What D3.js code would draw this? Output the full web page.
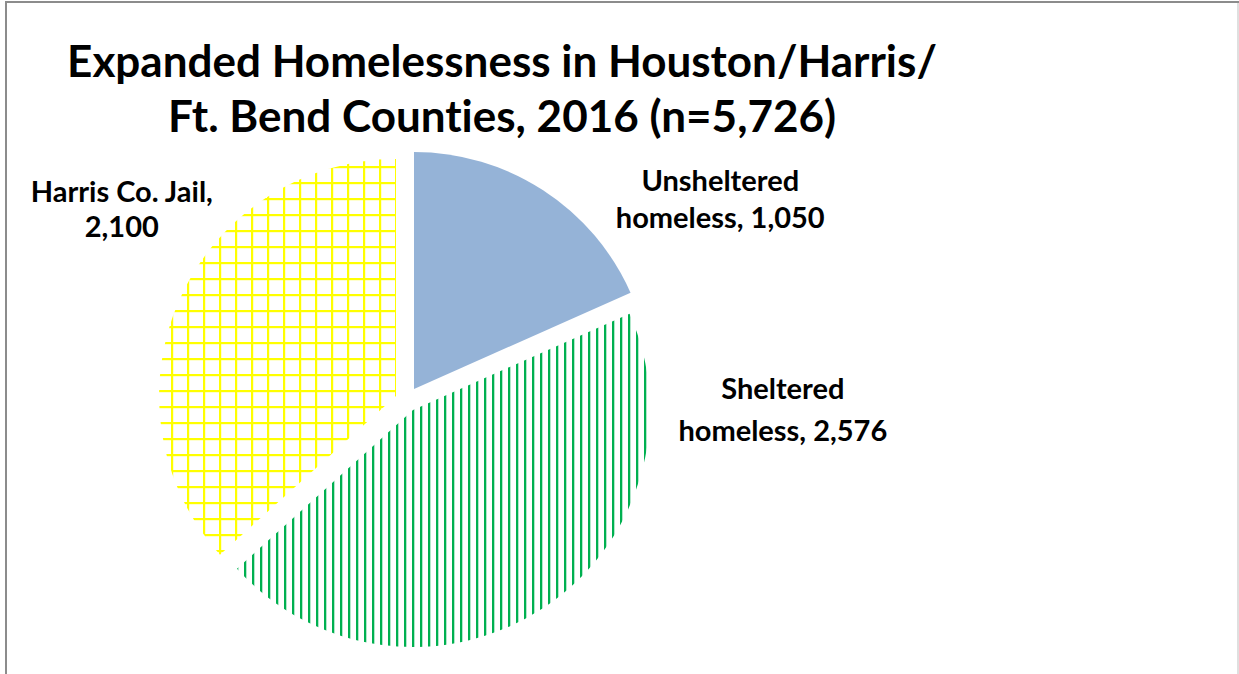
<!DOCTYPE html>
<html>
<head>
<meta charset="utf-8">
<script src="https://cdn.jsdelivr.net/npm/d3@7"></script>
<style>
  html, body { margin: 0; padding: 0; background: #fff; }
  svg { display: block; }
  text { font-family: Lato, "Open Sans", sans-serif; font-weight: bold; fill: #000; font-variant-ligatures: none; font-feature-settings: "liga" 0; }
</style>
</head>
<body>
<svg id="chart" width="1239" height="674"></svg>
<script>
// ---- data ----
const titleLines = ["Expanded Homelessness in Houston/Harris/", "Ft. Bend Counties, 2016 (n=5,726)"];
const categories = ["Unsheltered homeless", "Sheltered homeless", "Harris Co. Jail"];
const values = [1050, 2576, 2100];
const labelLines = [["Unsheltered", "homeless, 1,050"], ["Sheltered", "homeless, 2,576"], ["Harris Co. Jail,", "2,100"]];

// ---- layout / style ----
const W = 1239, H = 674;
const center = [407, 399.5];
const radius = 237;
const explode = [[7, -10.5], [6, 10.5], [-11, -3.5]];
const labelPolar = [[57.6, 371], [91.8, 376], [303.5, 342]]; // degrees clockwise from 12 o'clock, px
const labelLineGap = [37, 42, 35];
const labelSize = 29;
const titleSize = 44;

const svg = d3.select("#chart");
svg.append("rect").attr("x", 0).attr("y", 0).attr("width", W).attr("height", H).attr("fill", "#fff");
// frame
svg.append("line").attr("x1", 5).attr("x2", 1239).attr("y1", 2).attr("y2", 2).attr("stroke", "#8c8c8c").attr("stroke-width", 2);
svg.append("line").attr("x1", 6).attr("x2", 6).attr("y1", 1).attr("y2", H).attr("stroke", "#8c8c8c").attr("stroke-width", 2);
svg.append("line").attr("x1", 1238).attr("x2", 1238).attr("y1", 3).attr("y2", H).attr("stroke", "#d4d4d4").attr("stroke-width", 1.5);

const defs = svg.append("defs");
const pie = d3.pie().sort(null).value(d => d)(values);
const arc = d3.arc().innerRadius(0).outerRadius(radius);

function tr(i) { return [center[0] + explode[i][0], center[1] + explode[i][1]]; }

// Jail: yellow grid pattern
{
  const t = tr(2);
  const p = defs.append("pattern").attr("id", "pYellow").attr("patternUnits", "userSpaceOnUse")
    .attr("width", 16).attr("height", 16).attr("x", 395 - t[0]).attr("y", 166 - t[1]);
  p.append("rect").attr("x", 0).attr("y", 0).attr("width", 2.2).attr("height", 16).attr("fill", "#FFFF00");
  p.append("rect").attr("x", 0).attr("y", 0).attr("width", 16).attr("height", 2.2).attr("fill", "#FFFF00");
}
// Sheltered: green vertical lines
{
  const t = tr(1);
  const p = defs.append("pattern").attr("id", "pGreen").attr("patternUnits", "userSpaceOnUse")
    .attr("width", 8).attr("height", 8).attr("x", 604 - t[0]).attr("y", 0);
  p.append("rect").attr("x", 0).attr("y", 0).attr("width", 2.3).attr("height", 8).attr("fill", "#00B050");
}
const fills = ["#95B3D7", "url(#pGreen)", "url(#pYellow)"];

svg.selectAll("g.slice").data(pie).enter().append("g").attr("class", "slice")
  .attr("transform", (d, i) => `translate(${tr(i)[0]},${tr(i)[1]})`)
  .append("path").attr("d", arc).attr("fill", (d, i) => fills[i]);

// title
svg.append("g").selectAll("text").data(titleLines).enter().append("text")
  .attr("x", 502).attr("y", (d, i) => 77 + i * 55)
  .attr("text-anchor", "middle").attr("font-size", titleSize).text(d => d);

// labels
labelLines.forEach((lines, i) => {
  const a = labelPolar[i][0] * Math.PI / 180;
  const [px, py] = d3.pointRadial(a, labelPolar[i][1]);
  const cx = center[0] + px, cy = center[1] + py;
  const g = svg.append("g");
  lines.forEach((s, j) => {
    g.append("text").attr("x", cx)
      .attr("y", cy + (j - (lines.length - 1) / 2) * labelLineGap[i] + labelSize * 0.31)
      .attr("text-anchor", "middle").attr("font-size", labelSize).text(s);
  });
});
</script>
</body>
</html>
